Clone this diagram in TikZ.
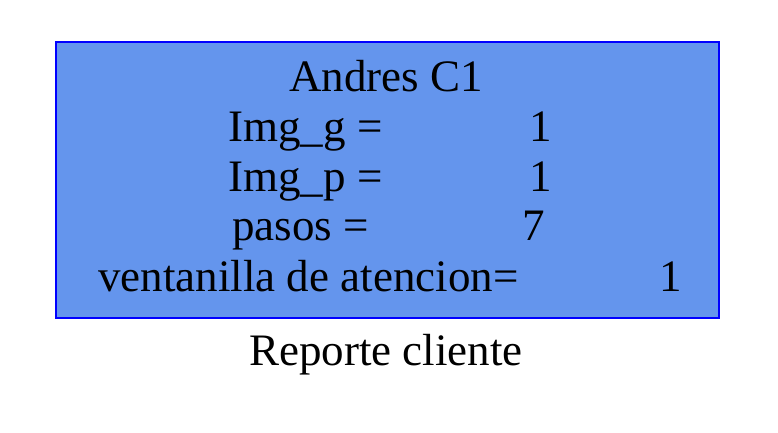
\documentclass[tikz,border=0pt]{standalone}
\usepackage{fontspec}
\setmainfont{Liberation Serif}
\usepackage{tikz}
\definecolor{cornflower}{RGB}{100,149,237}
\tikzset{lbl/.style={anchor=base west,inner sep=0pt,font=\fontsize{33.75}{40}\selectfont}}

\begin{document}
\begin{tikzpicture}[x=0.75pt,y=0.75pt,yscale=-1,xscale=1]
\useasboundingbox (0,0) rectangle (778,432);

%Shape: Rectangle [id:reporte]
\draw [color=blue,fill=cornflower,line width=1.5] (56,42) rectangle (719,318) ;

% Text Node
\draw (386,91) node [lbl,anchor=base] (nombre) {Andres C1};
% Text Node
\draw (228,141) node [lbl] (imgg) {Img\_g =};
\draw (529,141) node [lbl] (imggv) {1};
% Text Node
\draw (228,191) node [lbl] (imgp) {Img\_p =};
\draw (529,191) node [lbl] (imgpv) {1};
% Text Node
\draw (232,240) node [lbl] (pasos) {pasos =};
\draw (522,240) node [lbl] (pasosv) {7};
% Text Node
\draw (98,291) node [lbl] (ventanilla) {ventanilla de atencion=};
\draw (659,291) node [lbl] (ventanillav) {1};
% Text Node
\draw (386,365) node [lbl,anchor=base] (titulo) {Reporte cliente};

\end{tikzpicture}
\end{document}
